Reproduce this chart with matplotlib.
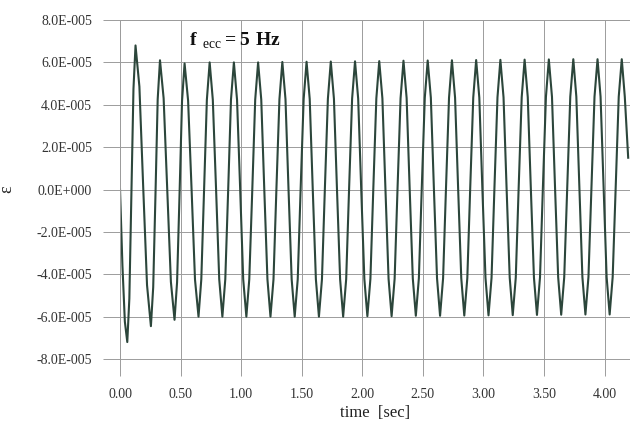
import matplotlib
matplotlib.use("Agg")
import matplotlib.pyplot as plt

# strain response (values in units of 1E-005)
time_s = [
    0.000, 0.020, 0.040, 0.060,
    0.077, 0.094, 0.111, 0.128,
    0.160, 0.191, 0.223, 0.255,
    0.274, 0.293, 0.311, 0.330,
    0.360, 0.390, 0.420, 0.450,
    0.471, 0.492, 0.512, 0.533,
    0.562, 0.591, 0.619, 0.648,
    0.671, 0.694, 0.717, 0.740,
    0.766, 0.793, 0.819, 0.845,
    0.869, 0.893, 0.916, 0.940,
    0.966, 0.992, 1.017, 1.043,
    1.067, 1.092, 1.116, 1.140,
    1.166, 1.191, 1.217, 1.242,
    1.267, 1.291, 1.316, 1.340,
    1.366, 1.391, 1.417, 1.442,
    1.467, 1.491, 1.516, 1.540,
    1.566, 1.591, 1.617, 1.642,
    1.667, 1.691, 1.716, 1.740,
    1.766, 1.791, 1.817, 1.842,
    1.867, 1.891, 1.916, 1.940,
    1.966, 1.991, 2.017, 2.042,
    2.067, 2.091, 2.116, 2.140,
    2.166, 2.191, 2.217, 2.242,
    2.267, 2.291, 2.316, 2.340,
    2.366, 2.391, 2.417, 2.442,
    2.467, 2.491, 2.516, 2.540,
    2.566, 2.591, 2.617, 2.642,
    2.667, 2.691, 2.716, 2.740,
    2.766, 2.791, 2.817, 2.842,
    2.867, 2.891, 2.916, 2.940,
    2.966, 2.991, 3.017, 3.042,
    3.067, 3.091, 3.116, 3.140,
    3.166, 3.191, 3.217, 3.242,
    3.267, 3.291, 3.316, 3.340,
    3.366, 3.391, 3.417, 3.442,
    3.467, 3.491, 3.516, 3.540,
    3.566, 3.591, 3.617, 3.642,
    3.667, 3.692, 3.717, 3.742,
    3.767, 3.792, 3.817, 3.842,
    3.867, 3.892, 3.917, 3.942,
    3.967, 3.992, 4.017, 4.042,
    4.067, 4.092, 4.117, 4.142,
    4.167, 4.195,
]

strain_e5 = [
    0.00, -3.60, -6.24, -7.20,
    -5.15, -0.20, 4.75, 6.80,
    4.86, 0.18, -4.51, -6.45,
    -4.61, -0.18, 4.26, 6.10,
    4.31, -0.03, -4.36, -6.15,
    -4.38, -0.10, 4.18, 5.95,
    4.20, -0.03, -4.25, -6.00,
    -4.24, 0.00, 4.24, 6.00,
    4.24, 0.00, -4.24, -6.00,
    -4.24, 0.00, 4.24, 6.00,
    4.24, 0.00, -4.24, -6.00,
    -4.24, 0.00, 4.24, 6.00,
    4.24, 0.00, -4.24, -6.00,
    -4.24, 0.01, 4.26, 6.02,
    4.26, 0.01, -4.24, -6.00,
    -4.24, 0.02, 4.27, 6.03,
    4.27, 0.02, -4.24, -6.00,
    -4.24, 0.02, 4.28, 6.04,
    4.28, 0.02, -4.24, -6.00,
    -4.23, 0.03, 4.29, 6.05,
    4.29, 0.04, -4.22, -5.98,
    -4.22, 0.04, 4.30, 6.06,
    4.30, 0.04, -4.22, -5.98,
    -4.21, 0.05, 4.31, 6.08,
    4.32, 0.06, -4.20, -5.96,
    -4.19, 0.07, 4.33, 6.09,
    4.33, 0.07, -4.19, -5.96,
    -4.19, 0.07, 4.33, 6.10,
    4.33, 0.08, -4.18, -5.95,
    -4.18, 0.08, 4.34, 6.11,
    4.34, 0.09, -4.17, -5.94,
    -4.17, 0.09, 4.35, 6.12,
    4.35, 0.10, -4.16, -5.93,
    -4.16, 0.10, 4.36, 6.13,
    4.36, 0.11, -4.15, -5.92,
    -4.15, 0.11, 4.37, 6.14,
    4.37, 0.12, -4.14, -5.91,
    -4.14, 0.12, 4.38, 6.15,
    4.38, 0.13, -4.13, -5.90,
    -4.13, 0.13, 4.38, 6.15,
    4.38, 0.13, -4.13, -5.90,
    -4.13, 0.13, 4.38, 6.15,
    4.38, 1.50,
]

x_ticks = [0.0, 0.5, 1.0, 1.5, 2.0, 2.5, 3.0, 3.5, 4.0]
x_tick_labels = ["0.00", "0.50", "1.00", "1.50", "2.00", "2.50", "3.00", "3.50", "4.00"]
y_ticks = [-8e-5, -6e-5, -4e-5, -2e-5, 0.0, 2e-5, 4e-5, 6e-5, 8e-5]
y_tick_labels = ["-8.0E-005", "-6.0E-005", "-4.0E-005", "-2.0E-005", "0.0E+000",
                 "2.0E-005", "4.0E-005", "6.0E-005", "8.0E-005"]

plt.rcParams['font.family'] = ['Liberation Serif', 'DejaVu Serif']
plt.rcParams['mathtext.fontset'] = 'custom'
plt.rcParams['mathtext.rm'] = 'Liberation Serif'
plt.rcParams['mathtext.bf'] = 'Liberation Serif:bold'

grid_col = '#9c9c9c'
line_col = '#2c463b'

fig = plt.figure(figsize=(6.3, 4.24), dpi=100)
ax = fig.add_axes([0.1905, 0.1533, 0.8095, 0.7995])

strain = [v * 1e-5 for v in strain_e5]
ax.plot(time_s, strain, color=line_col, lw=1.5, solid_joinstyle='round')

ax.set_xlim(0, 4.21)
ax.set_ylim(-8e-5, 8e-5)
ax.set_xticks(x_ticks)
ax.set_xticklabels(x_tick_labels)
ax.set_yticks(y_ticks)
ax.set_yticklabels(y_tick_labels)

ax.grid(True, color=grid_col, lw=0.7)
ax.tick_params(axis='both', direction='out', length=12, width=0.7, color=grid_col,
               labelsize=10, labelcolor='#333333')
ax.tick_params(axis='y', pad=8)
ax.tick_params(axis='x', pad=9)
for side in ['left', 'bottom', 'top']:
    ax.spines[side].set_color(grid_col)
    ax.spines[side].set_linewidth(0.7)
ax.spines['right'].set_visible(False)

ax.set_xlabel('time  [sec]', fontsize=12, color='#222222', labelpad=3)
ax.set_ylabel('\u03b5', fontsize=13, color='#222222')
ax.yaxis.set_label_coords(-0.205, 0.5)

ax.text(0.57, 7.0e-5, r'$\mathbf{f}\ _{\rm ecc}\mathbf{= 5\ Hz}$', fontsize=14,
        color='#111111', va='center', ha='left')

fig.savefig('out.png', dpi=100, facecolor='white')
